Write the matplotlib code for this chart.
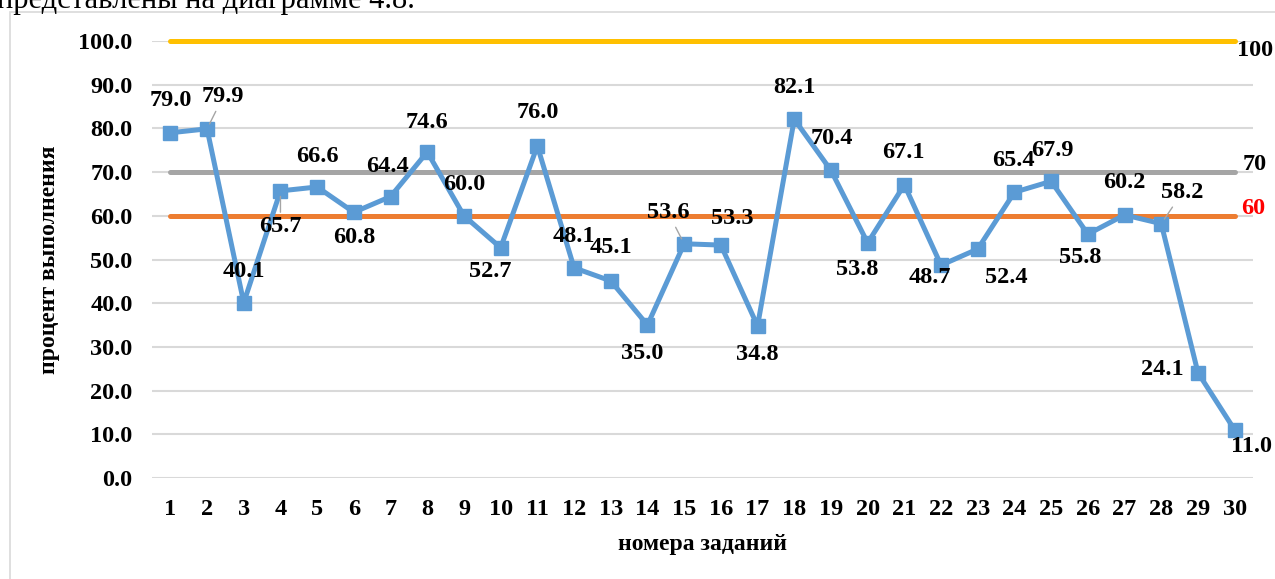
import matplotlib
matplotlib.use('Agg')
import matplotlib.pyplot as plt
from matplotlib.patches import Rectangle

plt.rcParams['font.family'] = ['Liberation Serif', 'DejaVu Serif']
plt.rcParams['font.weight'] = 'bold'

# номера заданий и процент выполнения
tasks = list(range(1, 31))
percent = [79.0, 79.9, 40.1, 65.7, 66.6, 60.8, 64.4, 74.6, 60.0, 52.7,
           76.0, 48.1, 45.1, 35.0, 53.6, 53.3, 34.8, 82.1, 70.4, 53.8,
           67.1, 48.7, 52.4, 65.4, 67.9, 55.8, 60.2, 58.2, 24.1, 11.0]

# пороговые уровни
levels = [100, 70, 60]
level_colors = ['#FFC000', '#A5A5A5', '#ED7D31']
level_label_colors = ['black', 'black', '#FF0000']
level_label_offsets = [(2, -9), (8, 8), (6, 7)]

# смещения подписей (в пикселях) относительно точек
label_offsets = [
    (0, 32), (16, 32), (0, 31), (0, -36), (0, 30), (0, -25), (-3, 30),
    (0, 29), (0, 31), (-10, -24), (0, 33), (0, 31), (0, 33), (-5, -28),
    (-16, 31), (11, 27), (0, -29), (0, 32), (1, 32), (-10, -27), (-1, 32),
    (-11, -12), (29, -28), (-1, 32), (1, 31), (-8, -23), (0, 32),
    (21, 31), (-36, 3), (17, -17),
]
leader_tasks = [2, 4, 15, 28]

FS = 17.5
W, H = 1275, 579
fig = plt.figure(figsize=(W / 100, H / 100), dpi=100)
fig.patch.set_facecolor('white')

# рамка области диаграммы
fig.add_artist(Rectangle((10 / W, -0.05), 1.1, 1 - 12 / H + 0.05,
                         transform=fig.transFigure, fill=False,
                         edgecolor='#D9D9D9', lw=1.2))
fig.text(-0.002, 1 - 8 / H, 'представлены на диаграмме 4.8.',
         fontsize=22, fontweight='normal', va='baseline', ha='left')

ax = fig.add_axes([152 / W, 1 - 478 / H, (1253 - 152) / W, (478 - 41) / H])
ax.set_xlim(0.5, 30.5)
ax.set_ylim(0, 100)

for spine in ax.spines.values():
    spine.set_visible(False)
ax.set_yticks(range(0, 101, 10))
ax.yaxis.grid(True, color='#D9D9D9', lw=1.5)
ax.set_axisbelow(True)
ax.set_xticks(tasks)
ax.tick_params(axis='both', length=0, labelsize=FS)
ax.tick_params(axis='y', pad=14)
ax.tick_params(axis='x', pad=15)
ax.set_yticklabels([f'{v:.1f}' for v in range(0, 101, 10)])
for lbl in ax.get_xticklabels() + ax.get_yticklabels():
    lbl.set_fontweight('bold')

for lvl, col, lcol, off in zip(levels, level_colors, level_label_colors,
                               level_label_offsets):
    ax.plot(tasks, [lvl] * len(tasks), color=col, lw=3.6,
            solid_capstyle='round', clip_on=False, zorder=2)
    ax.annotate(str(lvl), (tasks[-1], lvl), xytext=off,
                textcoords='offset pixels', ha='left', va='center',
                fontsize=FS, fontweight='bold', color=lcol,
                annotation_clip=False)

ax.plot(tasks, percent, color='#5B9BD5', lw=3.6, marker='s', markersize=10,
        clip_on=False, zorder=3)

for t, v, off in zip(tasks, percent, label_offsets):
    arrow = None
    if t in leader_tasks:
        arrow = dict(arrowstyle='-', color='#A5A5A5', lw=1,
                     shrinkA=1, shrinkB=4)
    ax.annotate(f'{v:.1f}', (t, v), xytext=off, textcoords='offset pixels',
                ha='center', va='center', fontsize=FS, fontweight='bold',
                arrowprops=arrow, annotation_clip=False, zorder=4)

ax.set_xlabel('номера заданий', fontsize=17, fontweight='bold', labelpad=10)
ax.set_ylabel('процент выполнения', fontsize=17, fontweight='bold')
ax.yaxis.set_label_coords(-(152 - 60) / (1253 - 152), 0.5)

fig.savefig('out.png', dpi=100)
